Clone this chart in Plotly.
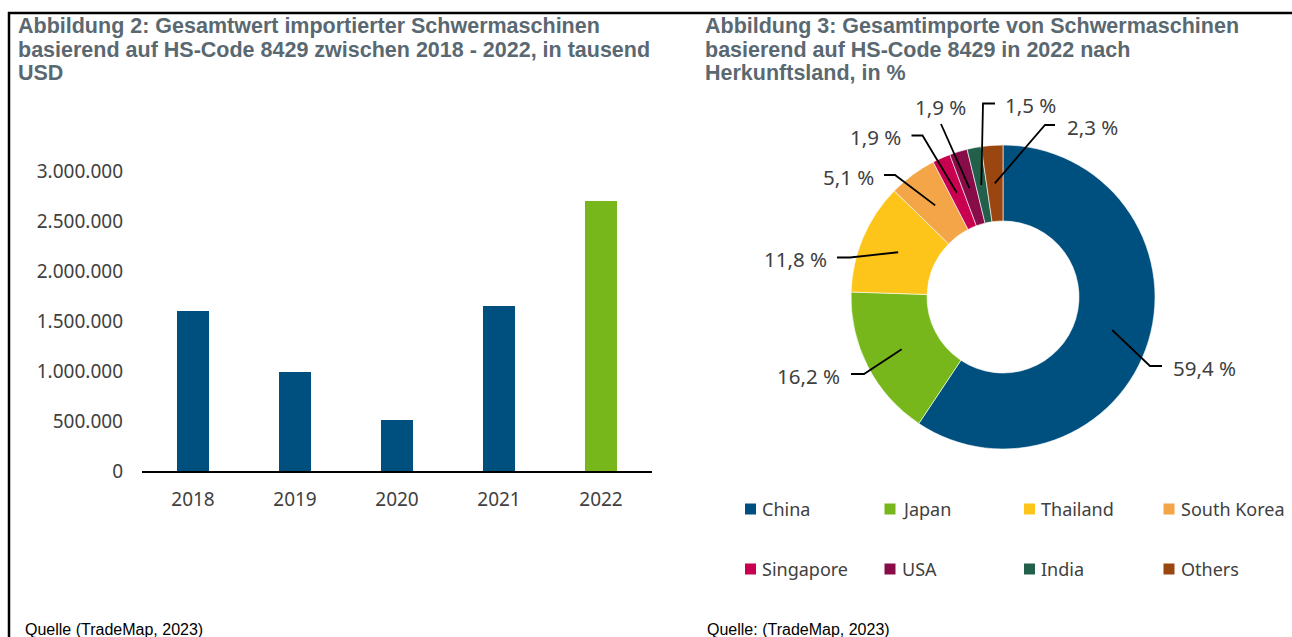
import math
import plotly.graph_objects as go

W, H = 1292, 637

# ---------------- data ----------------
years = ["2018", "2019", "2020", "2021", "2022"]
import_values = [1600000, 990000, 510000, 1650000, 2700000]
y_tick_values = [0, 500000, 1000000, 1500000, 2000000, 2500000, 3000000]

countries = ["China", "Japan", "Thailand", "South Korea", "Singapore", "USA", "India", "Others"]
shares = [59.4, 16.2, 11.8, 5.1, 1.9, 1.9, 1.5, 2.3]

title_left = ["Abbildung 2: Gesamtwert importierter Schwermaschinen",
              "basierend auf HS-Code 8429 zwischen 2018 - 2022, in tausend",
              "USD"]
title_right = ["Abbildung 3: Gesamtimporte von Schwermaschinen",
               "basierend auf HS-Code 8429 in 2022 nach",
               "Herkunftsland, in %"]
source_left = "Quelle (TradeMap, 2023)"
source_right = "Quelle: (TradeMap, 2023)"

# ---------------- styles ----------------
bar_colors = ["#00507f", "#00507f", "#00507f", "#00507f", "#77b71b"]
slice_colors = ["#00507f", "#77b71b", "#fdc519", "#f3a548", "#c8004f", "#870c48", "#22604c", "#9a4611"]
TITLE_COLOR = "#5a6871"
TEXT_COLOR = "#404040"
SANS = "Noto Sans"
ARIAL = "Liberation Sans, Arial"


def X(px):
    return px / W


def Y(py):
    return 1 - py / H


fig = go.Figure()

# ---------------- bar chart ----------------
fig.add_trace(go.Bar(
    x=years, y=import_values, marker=dict(color=bar_colors, line=dict(width=0)),
    xaxis="x", yaxis="y", showlegend=False, hoverinfo="x+y"))

# ---------------- donut ----------------
cx, cy, R = 1003, 297, 152
fig.add_trace(go.Pie(
    labels=countries, values=shares, hole=0.5, sort=False, direction="clockwise",
    rotation=0, textinfo="none", showlegend=False,
    marker=dict(colors=slice_colors, line=dict(color="white", width=0.6)),
    domain=dict(x=[X(cx - R), X(cx + R)], y=[Y(cy + R), Y(cy - R)])))

# leader lines / labels (layout positions in px)
label_layout = [
    dict(tx=1171, ty=368, xa="left", pts=[(1150, 366), (1162, 366)]),
    dict(tx=842, ty=375.5, xa="right", pts=[(864, 374), (851, 374)]),
    dict(tx=829, ty=259.5, xa="right", pts=[(850, 257.5), (837, 257.5)]),
    dict(tx=876, ty=176.5, xa="right", pts=[(895, 175), (884, 175)]),
    dict(tx=903, ty=137, xa="right", pts=[(922.5, 135.5), (911.5, 135.5)]),
    dict(tx=940, ty=107, xa="center", pts=[(941, 124)]),
    dict(tx=1003, ty=105, xa="left", pts=[(983, 103.5), (995, 103.5)]),
    dict(tx=1065, ty=127, xa="left", pts=[(1045, 125), (1055, 125)]),
]

total = sum(shares)
cum = 0.0
annotations = []
shapes = []
for i, v in enumerate(shares):
    mid = (cum + v / 2) / total * 2 * math.pi
    cum += v
    ax = cx + 0.75 * R * math.sin(mid)
    ay = cy - 0.75 * R * math.cos(mid)
    lay = label_layout[i]
    path = "M %f %f" % (X(ax), Y(ay))
    for (px, py) in lay["pts"]:
        path += " L %f %f" % (X(px), Y(py))
    shapes.append(dict(type="path", path=path, xref="paper", yref="paper",
                       line=dict(color="black", width=1.8)))
    annotations.append(dict(
        text=("%.1f %%" % v).replace(".", ","), x=X(lay["tx"]), y=Y(lay["ty"]),
        xref="paper", yref="paper", xanchor=lay["xa"], yanchor="middle",
        showarrow=False, font=dict(family=SANS, size=20.5, color=TEXT_COLOR)))

# manual legend (2 rows x 4 columns)
for i, name in enumerate(countries):
    col, row = i % 4, i // 4
    lx = 745 + col * 139.5
    ly = 509 + row * 60
    shapes.append(dict(type="rect", xref="paper", yref="paper",
                       x0=X(lx), x1=X(lx + 11), y0=Y(ly + 5.5), y1=Y(ly - 5.5),
                       fillcolor=slice_colors[i], line=dict(width=0)))
    annotations.append(dict(
        text=name, x=X(lx + 15), y=Y(ly), xref="paper", yref="paper",
        xanchor="left", yanchor="middle", showarrow=False,
        font=dict(family=SANS, size=18, color=TEXT_COLOR)))

# titles
line_y = [26.5, 49.5, 72.5]
for ln, yy in zip(title_left, line_y):
    annotations.append(dict(text="<b>%s</b>" % ln, x=X(16), y=Y(yy), xref="paper", yref="paper",
                            xanchor="left", yanchor="middle", showarrow=False,
                            font=dict(family=ARIAL, size=21.5, color=TITLE_COLOR)))
for ln, yy in zip(title_right, line_y):
    annotations.append(dict(text="<b>%s</b>" % ln, x=X(703), y=Y(yy), xref="paper", yref="paper",
                            xanchor="left", yanchor="middle", showarrow=False,
                            font=dict(family=ARIAL, size=21.5, color=TITLE_COLOR)))

# sources
annotations.append(dict(text=source_left, x=X(23), y=Y(629), xref="paper", yref="paper",
                        xanchor="left", yanchor="middle", showarrow=False,
                        font=dict(family=ARIAL, size=16, color="black")))
annotations.append(dict(text=source_right, x=X(705), y=Y(629), xref="paper", yref="paper",
                        xanchor="left", yanchor="middle", showarrow=False,
                        font=dict(family=ARIAL, size=16, color="black")))

# frame lines
shapes.append(dict(type="line", xref="paper", yref="paper", x0=X(8), x1=X(W), y0=Y(13), y1=Y(13),
                   line=dict(color="black", width=2.5)))
shapes.append(dict(type="line", xref="paper", yref="paper", x0=X(9), x1=X(9), y0=Y(12), y1=Y(H),
                   line=dict(color="black", width=2.5)))

fig.update_layout(
    width=W, height=H, autosize=False,
    margin=dict(l=0, r=0, t=0, b=0, pad=0, autoexpand=False),
    paper_bgcolor="white", plot_bgcolor="white",
    separators=",.",
    bargap=0.686,
    xaxis=dict(domain=[X(142), X(652)], type="category", showline=True, linecolor="black",
               linewidth=2, showgrid=False, zeroline=False, ticks="",
               tickfont=dict(family=SANS, size=19, color=TEXT_COLOR), ticklabelstandoff=10,
               anchor="y", fixedrange=True, automargin=False),
    yaxis=dict(domain=[Y(471), Y(171)], range=[0, 3000000], tickvals=y_tick_values,
               tickformat=",d", showline=False, showgrid=False, zeroline=False, ticks="",
               tickfont=dict(family=SANS, size=19, color=TEXT_COLOR), ticklabelstandoff=18,
               anchor="x", fixedrange=True, automargin=False),
    shapes=shapes,
    annotations=annotations,
)

fig.write_html("out.html", config={"displayModeBar": False},
               post_script="document.body.style.margin='0px';")
